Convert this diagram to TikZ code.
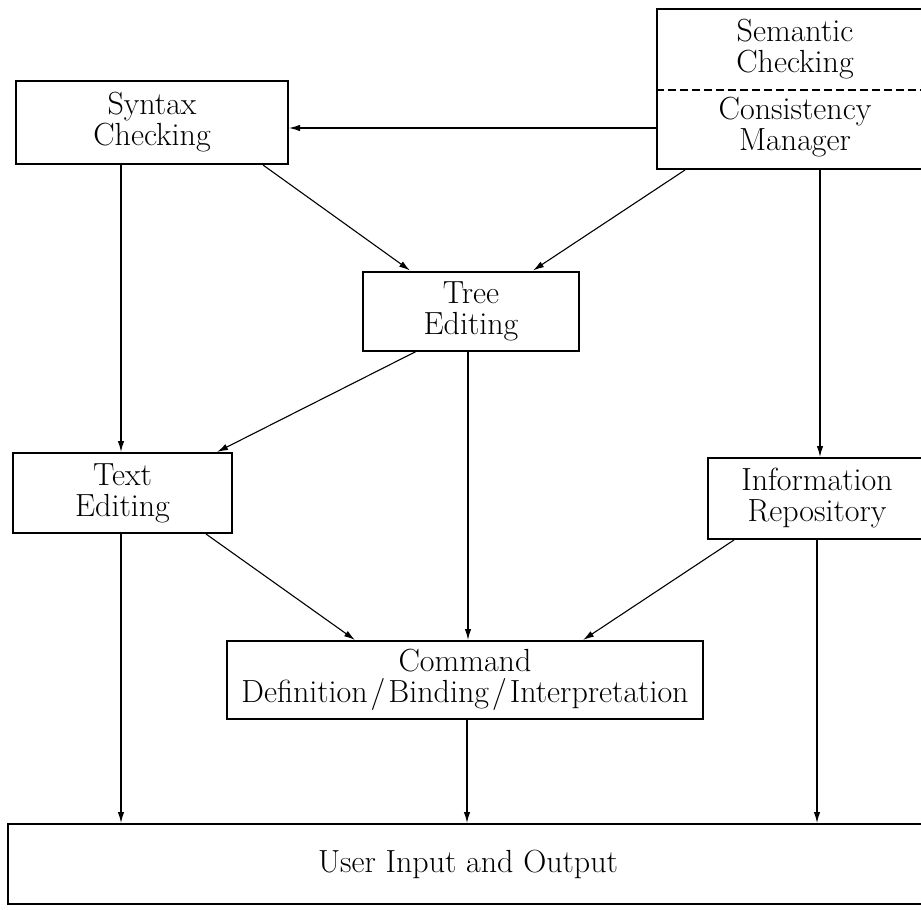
\documentclass[tikz,border=0pt]{standalone}
\usetikzlibrary{arrows.meta,calc}
\begin{document}
\begin{tikzpicture}[x=0.5pt,y=-0.5pt,
  box/.style={draw, line width=1pt, rectangle, inner sep=0pt, align=center,
    font=\fontsize{16}{15.5}\selectfont},
  lbl/.style={inner sep=0pt, align=center, font=\fontsize{16}{15.5}\selectfont},
  arr/.style={line width=0.55pt, -{Latex[length=5.5pt,width=3.2pt]}},
  divider/.style={line width=1pt, dash pattern=on 4pt off 2pt},
]
\useasboundingbox (0,0) rectangle (921,910);
\clip (0,0) rectangle (921,910);

% boxes
\node[box, minimum width=136pt, minimum height=41.5pt] (syn) at (152,122.5) {Syntax\\Checking};
\node[box, minimum width=138pt, minimum height=80pt] (sem) at (795,89) {};
\node[lbl] (semtop) at (795,49) {Semantic\\Checking};
\node[lbl] (sembot) at (795,127) {Consistency\\Manager};
\draw[divider] ($(sem.west)+(0,1)$) -- ($(sem.east)+(0,1)$);
\node[box, minimum width=108pt, minimum height=39.5pt] (tree) at (471,311) {Tree\\Editing};
\node[box, minimum width=109.5pt, minimum height=40pt] (txt) at (122.5,493) {Text\\Editing};
\node[box, minimum width=109pt, minimum height=40.5pt] (info) at (817,498.5) {Information\\Repository};
\node[box, minimum width=238pt, minimum height=39pt] (cmd) at (465,680)
  {Command\\Definition\kern1.5pt/\kern1.5pt Binding\kern1.5pt/\kern1.5pt Interpretation};
\node[box, minimum width=460pt, minimum height=40pt] (user) at (468,864) {User Input and Output};

% connectors
\draw[arr] (sem.west |- 0,128) -- (syn.east |- 0,128);
\draw[arr] (263,0 |- syn.south) -- (410,0 |- tree.north);
\draw[arr] (685,0 |- sem.south) -- (533,0 |- tree.north);
\draw[arr] (121,0 |- syn.south) -- (121,0 |- txt.north);
\draw[arr] (820,0 |- sem.south) -- (820,0 |- info.north);
\draw[arr] (416,0 |- tree.south) -- (217,0 |- txt.north);
\draw[arr] (468,0 |- tree.south) -- (468,0 |- cmd.north);
\draw[arr] (206,0 |- txt.south) -- (355,0 |- cmd.north);
\draw[arr] (734,0 |- info.south) -- (583,0 |- cmd.north);
\draw[arr] (121,0 |- txt.south) -- (121,0 |- user.north);
\draw[arr] (467,0 |- cmd.south) -- (467,0 |- user.north);
\draw[arr] (817,0 |- info.south) -- (817,0 |- user.north);
\end{tikzpicture}
\end{document}
